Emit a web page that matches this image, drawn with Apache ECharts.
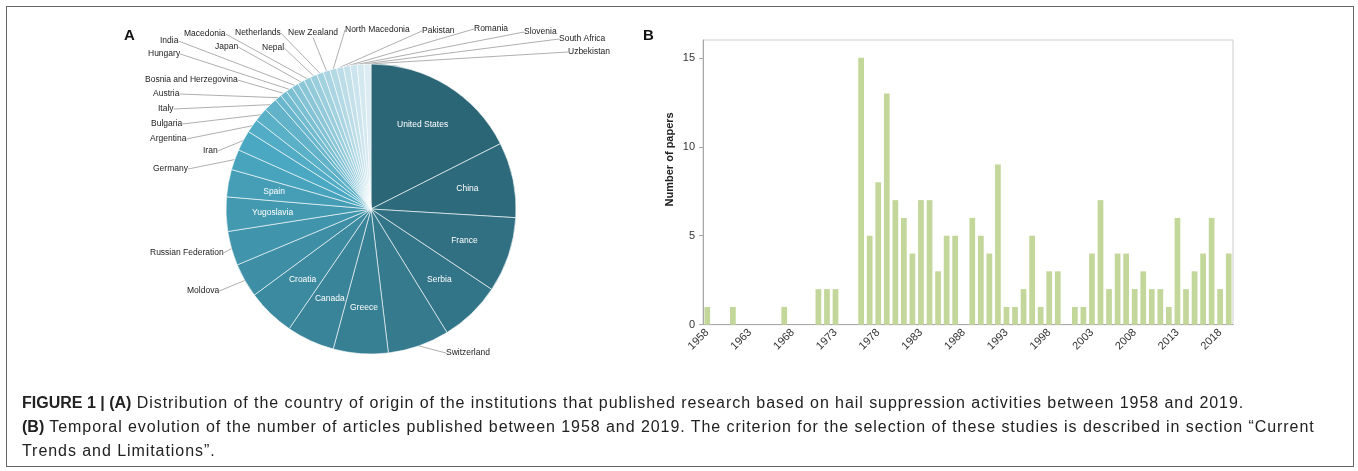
<!DOCTYPE html>
<html>
<head>
<meta charset="utf-8">
<script src="https://cdn.jsdelivr.net/npm/echarts@6/dist/echarts.min.js"></script>
<style>
* { margin: 0; padding: 0; }
body { width: 1358px; height: 471px; background: #fff; position: relative; overflow: hidden; font-family: "Liberation Sans", Arial, sans-serif; }
#main { position: absolute; left: 0; top: 0; width: 1358px; height: 471px; }
#frame { position: absolute; left: 6px; top: 6px; width: 1346px; height: 459px; border: 1px solid #666; pointer-events: none; }
#caption { position: absolute; left: 22px; top: 391px; font-size: 16px; line-height: 24px; color: #222; white-space: nowrap; letter-spacing: 0.94px; }
#caption b { font-weight: bold; letter-spacing: 0; }
</style>
</head>
<body>
<div id="main"></div>
<div id="frame"></div>
<div id="caption">
  <b>FIGURE 1 | (A)</b> Distribution of the country of origin of the institutions that published research based on hail suppression activities between 1958 and 2019.<br>
  <b>(B)</b> Temporal evolution of the number of articles published between 1958 and 2019. The criterion for the selection of these studies is described in section “Current<br>
  Trends and Limitations”.
</div>
<script>
// A: countries (clockwise from 12 o'clock)
var countries = ['United States', 'China', 'France', 'Serbia', 'Switzerland', 'Greece', 'Canada', 'Croatia',
  'Moldova', 'Russian Federation', 'Yugoslavia', 'Spain', 'Germany', 'Iran', 'Argentina', 'Bulgaria', 'Italy',
  'Austria', 'Bosnia and Herzegovina', 'Hungary', 'India', 'Japan', 'Macedonia', 'Nepal', 'Netherlands',
  'New Zealand', 'North Macedonia', 'Pakistan', 'Romania', 'Slovenia', 'South Africa', 'Uzbekistan'];
var papersByCountry = [23, 11, 11, 9, 9, 8, 7, 7, 5, 5, 5, 4, 3, 3, 2, 2, 2,
  1, 1, 1, 1, 1, 1, 1, 1, 1, 1, 1, 1, 1, 1, 1];

// B: papers per year
var years = ['1958', '1959', '1960', '1961', '1962', '1963', '1964', '1965', '1966', '1967',
  '1968', '1969', '1970', '1971', '1972', '1973', '1974', '1975', '1976', '1977',
  '1978', '1979', '1980', '1981', '1982', '1983', '1984', '1985', '1986', '1987',
  '1988', '1989', '1990', '1991', '1992', '1993', '1994', '1995', '1996', '1997',
  '1998', '1999', '2000', '2001', '2002', '2003', '2004', '2005', '2006', '2007',
  '2008', '2009', '2010', '2011', '2012', '2013', '2014', '2015', '2016', '2017',
  '2018', '2019'];
var paperCounts = [1, 0, 0, 1, 0, 0, 0, 0, 0, 1,
  0, 0, 0, 2, 2, 2, 0, 0, 15, 5,
  8, 13, 7, 6, 4, 7, 7, 3, 5, 5,
  0, 6, 5, 4, 9, 1, 1, 2, 5, 1,
  3, 3, 0, 1, 1, 4, 7, 2, 4, 4,
  2, 3, 2, 2, 1, 6, 2, 3, 4, 6,
  2, 4];
var yTicks = [0, 5, 10, 15];

// labels drawn inside the slices
var insideLabels = ['United States', 'China', 'France', 'Serbia', 'Greece', 'Canada', 'Croatia', 'Yugoslavia', 'Spain'];

// where the outside labels sit (left x, middle y)
var labelPos = {
  'Switzerland': [446, 353], 'Moldova': [187, 291], 'Russian Federation': [150, 253],
  'Germany': [153, 169], 'Iran': [203, 151], 'Argentina': [150, 139], 'Bulgaria': [151, 124],
  'Italy': [158, 109], 'Austria': [153, 94], 'Bosnia and Herzegovina': [145, 80],
  'Hungary': [148, 54], 'India': [160, 41], 'Japan': [215, 47], 'Macedonia': [184, 34],
  'Nepal': [262, 48], 'Netherlands': [235, 33], 'New Zealand': [288, 33],
  'North Macedonia': [345, 30], 'Pakistan': [422, 31], 'Romania': [474, 29],
  'Slovenia': [524, 32], 'South Africa': [559, 39], 'Uzbekistan': [568, 52]
};

var font = '"Liberation Sans", Arial, sans-serif';

// teal gradient, dark -> bright -> pale
function mix(a, b, t) {
  var r = [];
  for (var k = 0; k < 3; k++) r.push(Math.round(a[k] + (b[k] - a[k]) * t));
  return 'rgb(' + r.join(',') + ')';
}
function sliceColor(i) {
  var c0 = [43, 102, 118], c1 = [74, 168, 194], c2 = [220, 236, 242];
  if (i <= 13) return mix(c0, c1, i / 13);
  return mix(c1, c2, (i - 13) / (countries.length - 1 - 13));
}

var pieData = countries.map(function (name, i) {
  var inside = insideLabels.indexOf(name) >= 0;
  return {
    name: name, value: papersByCountry[i],
    itemStyle: { color: sliceColor(i) },
    label: { show: !inside },
    labelLine: { show: !inside }
  };
});
var pieInnerData = countries.map(function (name, i) {
  return { name: name, value: papersByCountry[i], label: { show: insideLabels.indexOf(name) >= 0 } };
});

var chart = echarts.init(document.getElementById('main'));
chart.setOption({
  animation: false,
  textStyle: { fontFamily: font },
  graphic: [
    { type: 'text', left: 124, top: 28, style: { text: 'A', font: 'bold 15px ' + font, fill: '#111' } },
    { type: 'text', left: 643, top: 28, style: { text: 'B', font: 'bold 15px ' + font, fill: '#111' } }
  ],
  grid: {
    left: 703, top: 40, width: 530, height: 284.7,
    show: true, borderColor: '#cfcfcf', borderWidth: 1,
    containLabel: false, outerBoundsMode: 'none'
  },
  xAxis: {
    type: 'category',
    data: years,
    axisLine: { lineStyle: { color: '#a8a8a8', width: 1 } },
    axisTick: { interval: 0, length: 4, lineStyle: { color: '#a8a8a8' } },
    axisLabel: { interval: 4, rotate: 45, fontSize: 11, color: '#333', margin: 6, fontFamily: font }
  },
  yAxis: {
    type: 'value',
    min: yTicks[0], max: 16, interval: yTicks[1] - yTicks[0],
    name: 'Number of papers',
    nameLocation: 'middle',
    nameGap: 28,
    nameTextStyle: { fontWeight: 'bold', fontSize: 11, color: '#222', padding: [0, 0, 0, 46] },
    axisLine: { show: true, lineStyle: { color: '#a8a8a8', width: 1 } },
    axisTick: { show: true, length: 4, lineStyle: { color: '#a8a8a8' } },
    splitLine: { show: false },
    axisLabel: { fontSize: 11, color: '#333', margin: 8, showMaxLabel: false, fontFamily: font }
  },
  series: [
    {
      type: 'pie',
      center: [371, 209],
      radius: 145,
      startAngle: 90,
      clockwise: true,
      avoidLabelOverlap: false,
      itemStyle: { borderColor: '#fff', borderWidth: 0.6 },
      label: { show: true, position: 'outside', fontSize: 8.5, color: '#222', fontFamily: font },
      labelLine: { show: true, length: 8, length2: 0, smooth: false, lineStyle: { color: '#8c8c8c', width: 0.7 } },
      labelLayout: function (p) {
        var pos = labelPos[countries[p.dataIndex]];
        if (!pos) return {};
        return { x: pos[0], y: pos[1], align: 'left', verticalAlign: 'middle' };
      },
      emphasis: { disabled: true },
      data: pieData
    },
    {
      type: 'pie',
      center: [371, 209],
      radius: [46, 145],
      startAngle: 90,
      clockwise: true,
      silent: true,
      itemStyle: { color: 'rgba(0,0,0,0)', borderWidth: 0 },
      label: { position: 'inside', fontSize: 8.5, color: '#fff', fontFamily: font },
      labelLine: { show: false },
      emphasis: { disabled: true },
      data: pieInnerData
    },
    {
      type: 'bar',
      data: paperCounts,
      barCategoryGap: '33%',
      itemStyle: { color: '#c4d79b' },
      emphasis: { disabled: true }
    }
  ]
});
</script>
</body>
</html>
